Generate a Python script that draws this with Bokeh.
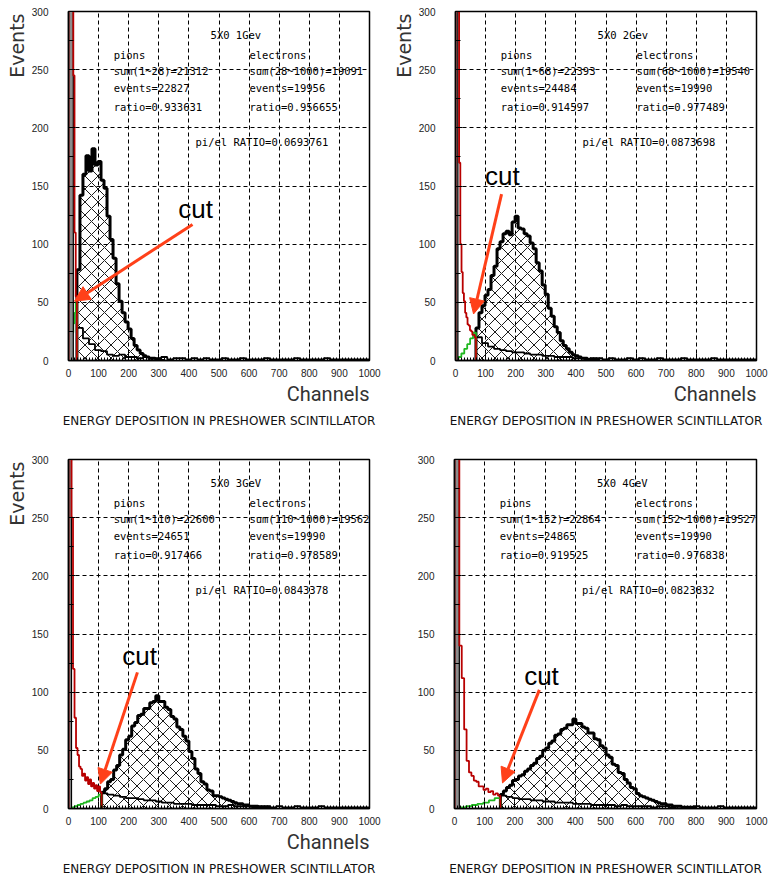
import numpy as np
from bokeh.plotting import figure
from bokeh.layouts import row, column
from bokeh.models import Range1d, SingleIntervalTicker, Label, Arrow, NormalHead, Title
from bokeh.embed import file_html
from bokeh.resources import INLINE

# ---------------- data ----------------
cuts = [28, 68, 110, 152]

# electrons below cut (green), bins spread evenly over 0..cut
e_lo_1 = [3, 9, 16, 24, 32, 41, 50]
e_lo_2 = [1, 3, 6, 10, 14, 19, 24]
e_lo_3 = [0, 1, 2, 3, 4, 5, 6, 7, 9, 10, 12]
e_lo_4 = [0, 1, 2, 3, 4, 5, 7, 9]

# electrons above cut (black, hatched), 10-channel bins starting at cut
e_hi_1 = [78, 142, 160, 176, 163, 182, 168, 171, 155, 148, 124, 104, 88, 66, 51, 41, 33, 27,
          19, 13, 9, 6, 4, 3, 2, 2, 1, 1, 0]
e_hi_2 = [28, 41, 47, 56, 61, 73, 81, 96, 102, 109, 111, 108, 119, 124, 114, 113, 109, 107,
          101, 96, 84, 77, 65, 57, 45, 38, 29, 24, 17, 13, 10, 7, 5, 4, 3, 2, 2, 1, 1, 1, 0]
e_hi_3 = [14, 17, 23, 25, 33, 37, 46, 51, 59, 62, 71, 74, 80, 81, 86, 86, 91, 92, 97, 92, 92,
          87, 85, 79, 77, 70, 68, 62, 58, 49, 43, 34, 30, 23, 21, 16, 15, 11, 11, 10, 9, 8, 7,
          6, 5, 4, 4, 3, 3, 2, 2, 2, 1, 1, 1, 1, 0]
e_hi_4 = [12, 15, 18, 20, 24, 25, 28, 29, 32, 34, 37, 39, 43, 45, 50, 52, 56, 58, 63, 64, 68,
          69, 72, 72, 77, 73, 73, 70, 69, 65, 65, 60, 59, 54, 52, 46, 44, 38, 37, 31, 30, 25,
          22, 18, 17, 13, 11, 10, 9, 8, 7, 6, 5, 4, 4, 3, 3, 2, 2, 2, 1, 1, 1, 1, 0]

# pions below cut (red), bins spread evenly over 0..cut
pi_lo_1 = [1500, 900, 420, 310, 245, 110, 55]
pi_lo_2 = [1500, 900, 300, 170, 100, 76, 58, 51, 41, 37, 31, 30, 26, 25, 22, 22, 20]
pi_lo_3 = [1500, 700, 250, 120, 78, 52, 46, 36, 34, 28, 30, 24, 27, 21, 25, 19, 22, 17, 20,
           15, 19, 14]
pi_lo_4 = [1500, 800, 140, 112, 68, 41, 31, 28, 24, 23, 19, 19, 16, 17, 14, 15, 12, 13, 11]

# pions above cut (black, lower curve), 20-channel bins starting at cut
pi_hi_1 = [28, 19, 14, 9, 8, 5, 4, 5, 3, 3, 2, 3, 2, 2, 3, 1, 2, 2, 1, 2, 1, 2, 1, 1, 2, 1,
           1, 2, 1, 1, 1, 2, 1, 1, 1, 1, 2, 1, 1, 1, 1, 2, 1, 1, 1, 1, 1, 1, 1]
pi_hi_2 = [20, 15, 12, 10, 9, 8, 7, 7, 6, 5, 5, 4, 4, 3, 3, 3, 2, 2, 1, 2, 2, 1, 2, 1, 1, 2,
           1, 2, 1, 1, 2, 1, 1, 1, 2, 1, 1, 1, 1, 2, 1, 1, 1, 1, 1, 1, 1]
pi_hi_3 = [13, 12, 11, 10, 9, 9, 8, 7, 7, 6, 5, 5, 4, 4, 4, 3, 3, 3, 3, 2, 2, 3, 2, 2, 2, 1,
           2, 2, 1, 2, 1, 1, 2, 1, 1, 1, 2, 1, 1, 1, 1, 1, 1, 1, 1]
pi_hi_4 = [11, 10, 9, 8, 8, 7, 7, 6, 6, 5, 5, 5, 4, 4, 4, 3, 3, 3, 3, 2, 3, 2, 2, 2, 2, 1, 2,
           2, 1, 2, 1, 1, 2, 1, 1, 1, 2, 1, 1, 1, 1, 1, 1]

titles = ["5X0  1Gev", "5X0  2Gev", "5X0  3GeV", "5X0  4GeV"]
pion_sum = ["sum(1~28)=21312", "sum(1~68)=22393", "sum(1~110)=22600", "sum(1~152)=22864"]
pion_events = ["events=22827", "events=24484", "events=24651", "events=24865"]
pion_ratio = ["ratio=0.933631", "ratio=0.914597", "ratio=0.917466", "ratio=0.919525"]
el_sum = ["sum(28~1000)=19091", "sum(68~1000)=19540", "sum(110~1000)=19562", "sum(152~1000)=19527"]
el_events = ["events=19956", "events=19990", "events=19990", "events=19990"]
el_ratio = ["ratio=0.956655", "ratio=0.977489", "ratio=0.978589", "ratio=0.976838"]
pi_el = ["pi/el RATIO=0.0693761", "pi/el RATIO=0.0873698", "pi/el RATIO=0.0843378",
         "pi/el RATIO=0.0823832"]

cut_text = [(422, 130), (156, 159), (236, 131), (288, 114)]
arrow_start = [(412, 117), (153, 143), (229, 117), (281, 102)]
arrow_end = [(20, 51), (60, 40), (106, 21), (159, 22)]

x_ticks_interval = 100
y_ticks_interval = 50
caption = "ENERGY DEPOSITION IN PRESHOWER SCINTILLATOR"
y_label = "Events"
x_label = "Channels"

E_LO = [e_lo_1, e_lo_2, e_lo_3, e_lo_4]
E_HI = [e_hi_1, e_hi_2, e_hi_3, e_hi_4]
PI_LO = [pi_lo_1, pi_lo_2, pi_lo_3, pi_lo_4]
PI_HI = [pi_hi_1, pi_hi_2, pi_hi_3, pi_hi_4]

# ---------------- layout ----------------
sizes = [  # width, height, left, right, top, bottom
    (384, 441, 68, 15, 10, 81),
    (385, 441, 71, 13, 11, 80),
    (384, 442, 68, 15, 18, 75),
    (385, 442, 70, 13, 18, 75),
]

RED = "#b80000"
GREEN = "#20b820"
ARROW = "#ff4019"
MONO = "DejaVu Sans Mono"


def step_xy(edges, vals):
    xs, ys = [edges[0]], [0]
    for i, v in enumerate(vals):
        xs += [edges[i], edges[i + 1]]
        ys += [v, v]
    xs.append(edges[-1])
    ys.append(0)
    return xs, ys


def make_panel(k):
    w, h, bl, br, bt, bb = sizes[k]
    p = figure(width=w, height=h, output_backend="svg", toolbar_location=None,
               x_range=Range1d(0, 1000), y_range=Range1d(0, 300),
               min_border_left=bl, min_border_right=br, min_border_top=bt,
               min_border_bottom=bb, background_fill_color="white",
               border_fill_color="white")
    p.outline_line_color = "black"
    p.outline_line_width = 1.5

    xt = SingleIntervalTicker(interval=x_ticks_interval, num_minor_ticks=10)
    yt = SingleIntervalTicker(interval=y_ticks_interval, num_minor_ticks=2)
    p.xaxis.ticker = xt
    p.yaxis.ticker = yt
    p.xgrid.ticker = xt
    p.ygrid.ticker = yt
    for g in (p.xgrid, p.ygrid):
        g.grid_line_color = "black"
        g.grid_line_dash = "4 3"
        g.grid_line_width = 1
    for ax in (p.xaxis, p.yaxis):
        ax.axis_line_color = "black"
        ax.axis_line_width = 1.5
        ax.major_tick_in = 7
        ax.major_tick_out = 0
        ax.minor_tick_in = 3
        ax.minor_tick_out = 0
        ax.major_tick_line_color = "black"
        ax.minor_tick_line_color = "black"
        ax.major_label_text_font = "Liberation Sans"
        ax.major_label_text_font_size = "10px"
        ax.major_label_text_color = "#222222"
    p.xaxis.major_label_standoff = 8
    p.yaxis.major_label_standoff = 20
    p.yaxis.minor_tick_in = 5

    cut = cuts[k]
    # pions above cut (black lower curve)
    ph = PI_HI[k]
    edges = [cut + 20 * i for i in range(len(ph) + 1)]
    xs, ys = step_xy(edges, ph)
    p.line(xs, ys, line_color="black", line_width=1.8)

    # electrons above cut, hatched
    eh = E_HI[k]
    edges = [cut + 10 * i for i in range(len(eh) + 1)]
    xs, ys = step_xy(edges, eh)
    p.patch(xs, ys, fill_color=None, line_color=None, hatch_pattern="diagonal_cross",
            hatch_scale=13, hatch_color="black", hatch_weight=0.9)
    p.line(xs, ys, line_color="black", line_width=3)

    # electrons below cut (green)
    el = E_LO[k]
    edges = list(np.linspace(0, cut, len(el) + 1))
    xs, ys = step_xy(edges, el)
    p.line(xs, ys, line_color=GREEN, line_width=1.8)

    # pions below cut (red) with saturated spike
    pl = PI_LO[k]
    edges = list(np.linspace(0, cut, len(pl) + 1))
    spike_r = max(edges[i + 1] for i, v in enumerate(pl) if v > 300)
    p.quad(left=[0], right=[spike_r], bottom=[0], top=[max(pl)], fill_color="#8c8c8c",
           line_color="black", line_width=1.2)
    xs, ys = step_xy(edges, pl)
    p.line(xs, ys, line_color=RED, line_width=1.8)

    # text block
    def txt(x, y, s, size="10.5px", font=MONO, align="left", **kw):
        p.add_layout(Label(x=x, y=y, text=s, text_font=font, text_font_size=size,
                           text_align=align, text_baseline="middle", text_color="black", **kw))

    txt(472, 280, titles[k])
    txt(150, 263, "pions")
    txt(150, 249, pion_sum[k])
    txt(150, 234, pion_events[k])
    txt(150, 218, pion_ratio[k])
    txt(601, 263, "electrons")
    txt(601, 249, el_sum[k])
    txt(601, 234, el_events[k])
    txt(601, 218, el_ratio[k])
    txt(422, 188, pi_el[k])

    # cut annotation
    p.add_layout(Arrow(end=NormalHead(size=15, fill_color=ARROW, line_color=ARROW),
                       x_start=arrow_start[k][0], y_start=arrow_start[k][1],
                       x_end=arrow_end[k][0], y_end=arrow_end[k][1],
                       line_color=ARROW, line_width=3))
    txt(cut_text[k][0], cut_text[k][1], "cut", size="26px", font="Liberation Sans",
        align="center")

    # outside labels (titles placed around the frame)
    if k < 3:
        p.add_layout(Title(text=y_label, align="right", text_font="DejaVu Sans",
                           text_font_size="19px", text_font_style="normal",
                           text_color="#333333", standoff=2, offset=2), "left")
    p.add_layout(Title(text=x_label if k < 3 else " ", align="right", text_font="Roboto",
                       text_font_size="20px", text_font_style="normal",
                       text_color="#333333", standoff=0), "below")
    p.add_layout(Title(text=caption, align="center", text_font="DejaVu Sans",
                       text_font_size="12px", text_font_style="normal",
                       vertical_align="bottom",
                       text_color="#111111", standoff=13), "below")
    return p


panels = [make_panel(k) for k in range(4)]
layout = column(row(panels[0], panels[1]), row(panels[2], panels[3]))

with open("out.html", "w") as f:
    f.write(file_html(layout, INLINE))
